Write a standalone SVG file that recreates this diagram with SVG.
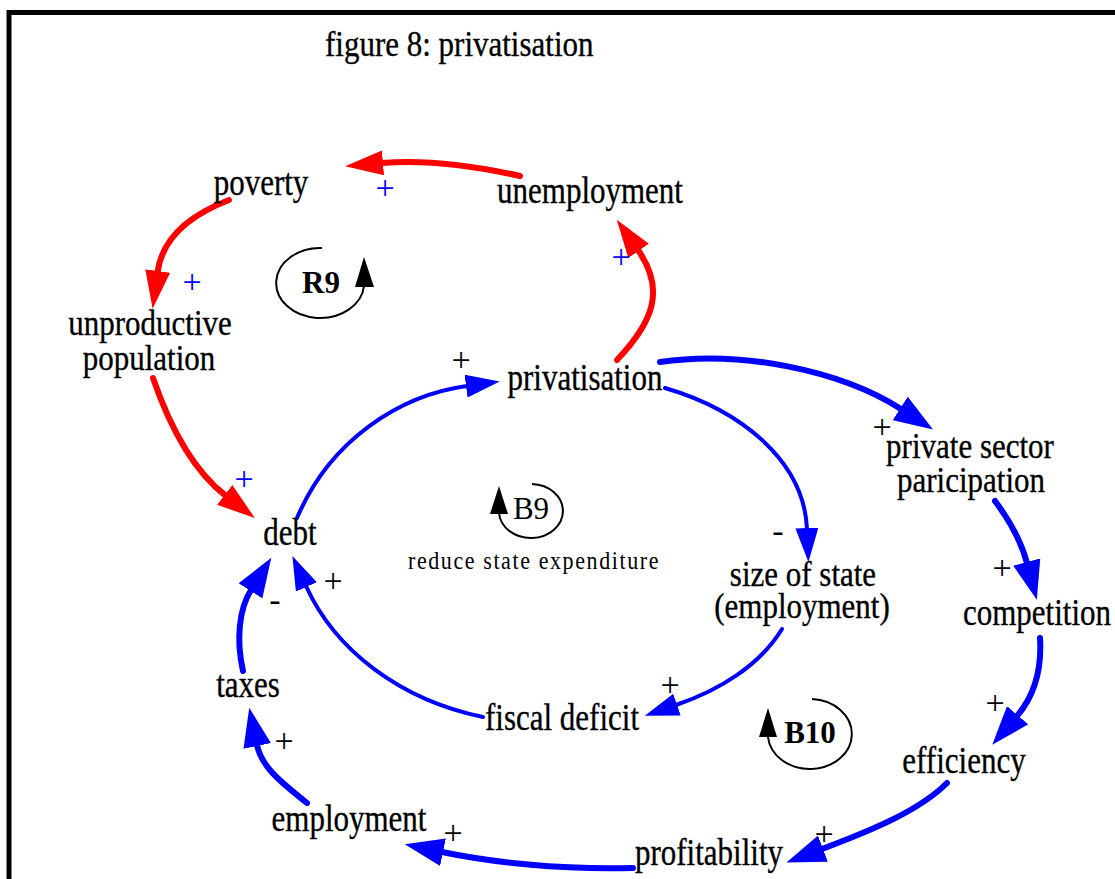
<svg xmlns="http://www.w3.org/2000/svg" width="1115" height="879" viewBox="0 0 1115 879">
  <style>
    .lbl { font-family: "Liberation Serif", "Times New Roman", serif; font-size: 31px; fill: #000; stroke: #000; stroke-width: 0.3; text-anchor: middle; }
    .title { font-family: "Liberation Serif", "Times New Roman", serif; font-size: 31px; fill: #000; stroke: #000; stroke-width: 0.3; }
    .loopname { font-family: "Liberation Serif", "Times New Roman", serif; font-size: 31px; fill: #000; text-anchor: middle; }
    .bold { font-weight: bold; }
    .note { font-family: "Liberation Serif", "Times New Roman", serif; font-size: 22px; letter-spacing: 1.6px; fill: #000; text-anchor: middle; }
    .sign { font-family: "Liberation Serif", "Times New Roman", serif; font-size: 34px; text-anchor: middle; }
    .sign-k { fill: #000; }
    .sign-b { fill: #0000ff; }
    .red { fill: none; stroke: #ff0000; stroke-width: 6; stroke-linecap: round; marker-end: url(#ah-red); }
    .blue { fill: none; stroke: #0000ff; stroke-width: 6; stroke-linecap: round; marker-end: url(#ah-blue); }
    .blue-thin { fill: none; stroke: #0000ff; stroke-width: 4; stroke-linecap: round; marker-end: url(#ah-blue-s); }
    .loop { fill: none; stroke: #000; stroke-width: 2; }
    .loophead { fill: #000; }
  </style>
  <defs>
    <marker id="ah-red" markerUnits="userSpaceOnUse" markerWidth="38" markerHeight="25" viewBox="0 0 38 25" refX="1" refY="12.5" orient="auto">
      <path d="M0,0 L38,12.5 L0,25 z" fill="#ff0000"/>
    </marker>
    <marker id="ah-blue" markerUnits="userSpaceOnUse" markerWidth="39" markerHeight="28" viewBox="0 0 39 28" refX="1" refY="14" orient="auto">
      <path d="M0,0 L39,14 L0,28 z" fill="#0000ff"/>
    </marker>
    <marker id="ah-blue-s" markerUnits="userSpaceOnUse" markerWidth="34" markerHeight="23" viewBox="0 0 34 23" refX="1" refY="11.5" orient="auto">
      <path d="M0,0 L34,11.5 L0,23 z" fill="#0000ff"/>
    </marker>
  </defs>

  <rect x="0" y="0" width="1115" height="879" fill="#ffffff"/>
  <!-- frame -->
  <rect x="9" y="12.5" width="1200" height="1000" fill="none" stroke="#000" stroke-width="5"/>

  <text class="title" transform="translate(325,56) scale(1,1.15)">figure 8: privatisation</text>

  <!-- connectors -->
  <g id="connectors">
    <!-- R9 loop (red) -->
    <path class="red" d="M520,176 Q440,158 382,163"/>
    <path class="red" d="M229,200 Q164,225 157.6,272"/>
    <path class="red" d="M153,378 Q182,462 225.5,495.5"/>
    <path class="red" d="M617,360 C653,322 666,290 638,250"/>
    <!-- B9 loop (thin blue) -->
    <path class="blue-thin" d="M297,518 C330,440 400,395 467,386"/>
    <path class="blue-thin" d="M665,388 C740,410 804,460 807,529"/>
    <path class="blue-thin" d="M782,629 C760,665 720,690 676,705"/>
    <path class="blue-thin" d="M483,717 C400,700 335,650 306,586"/>
    <!-- B10 loop (thick blue) -->
    <path class="blue" d="M660,362 C740,350 840,370 901,409"/>
    <path class="blue" d="M995,501 Q1019,533 1027,563"/>
    <path class="blue" d="M1040,638 C1042,670 1035,695 1017,716"/>
    <path class="blue" d="M947,783 C920,810 875,829 822,849"/>
    <path class="blue" d="M633,868 C560,870 490,862 442,852"/>
    <path class="blue" d="M307,803 C285,785 262,769 257,745"/>
    <path class="blue" d="M243,671 C236,640 239,609 251,590"/>
  </g>

  <!-- link polarities -->
  <g id="polarities">
    <text class="sign sign-b" x="385" y="199">+</text>
    <text class="sign sign-b" x="192" y="293">+</text>
    <text class="sign sign-b" x="621" y="268">+</text>
    <text class="sign sign-b" x="244" y="490">+</text>
    <text class="sign sign-k" x="461" y="371">+</text>
    <text class="sign sign-k" x="882" y="438">+</text>
    <text class="sign sign-k" x="1002" y="579">+</text>
    <text class="sign sign-k" x="995" y="714">+</text>
    <text class="sign sign-k" x="824" y="845">+</text>
    <text class="sign sign-k" x="453" y="844">+</text>
    <text class="sign sign-k" x="284" y="752">+</text>
    <text class="sign sign-k" x="333" y="592">+</text>
    <text class="sign sign-k" x="670" y="696">+</text>
    <text class="sign sign-k" x="778" y="542">-</text>
    <text class="sign sign-k" x="275" y="611">-</text>
  </g>

  <!-- variables -->
  <g id="poverty"><text class="lbl" transform="translate(261,195) scale(1,1.2)">poverty</text></g>
  <g id="unemployment"><text class="lbl" transform="translate(590,203) scale(1,1.2)">unemployment</text></g>
  <g id="unproductive-population">
    <text class="lbl" transform="translate(150,335) scale(1,1.15)">unproductive</text>
    <text class="lbl" transform="translate(149,370) scale(1,1.15)">population</text>
  </g>
  <g id="privatisation"><text class="lbl" transform="translate(585,390) scale(1,1.2)">privatisation</text></g>
  <g id="private-sector-participation">
    <text class="lbl" transform="translate(970,458) scale(1,1.15)">private sector</text>
    <text class="lbl" transform="translate(971,492) scale(1,1.15)">paricipation</text>
  </g>
  <g id="debt"><text class="lbl" transform="translate(290,545) scale(1,1.2)">debt</text></g>
  <g id="size-of-state">
    <text class="lbl" transform="translate(803,586) scale(1,1.15)">size of state</text>
    <text class="lbl" transform="translate(802,618) scale(1,1.15)">(employment)</text>
  </g>
  <g id="competition"><text class="lbl" transform="translate(1037,625) scale(1,1.2)">competition</text></g>
  <g id="taxes"><text class="lbl" transform="translate(248,697) scale(1,1.2)">taxes</text></g>
  <g id="fiscal-deficit"><text class="lbl" transform="translate(562,730) scale(1,1.2)">fiscal deficit</text></g>
  <g id="efficiency"><text class="lbl" transform="translate(964,773) scale(1,1.2)">efficiency</text></g>
  <g id="employment"><text class="lbl" transform="translate(349,831) scale(1,1.2)">employment</text></g>
  <g id="profitability"><text class="lbl" transform="translate(709,865) scale(1,1.2)">profitability</text></g>

  <!-- loop markers -->
  <g id="loop-R9">
    <path class="loop" d="M322,248 A44,35 0 1,0 364,286"/>
    <polygon class="loophead" points="364,257 355,287 374,287"/>
    <text class="loopname bold" x="321" y="293">R9</text>
  </g>
  <g id="loop-B9">
    <path class="loop" d="M532,484 A32,27 0 1,1 499,513"/>
    <polygon class="loophead" points="499,486 490,514 508,514"/>
    <text class="loopname" x="531" y="519">B9</text>
    <text class="note" transform="translate(534,569) scale(1,1.1)">reduce state expenditure</text>
  </g>
  <g id="loop-B10">
    <path class="loop" d="M812,699 A42,35 0 1,1 768,737"/>
    <polygon class="loophead" points="768,708 759,737 777,737"/>
    <text class="loopname bold" x="810" y="743">B10</text>
  </g>
</svg>
